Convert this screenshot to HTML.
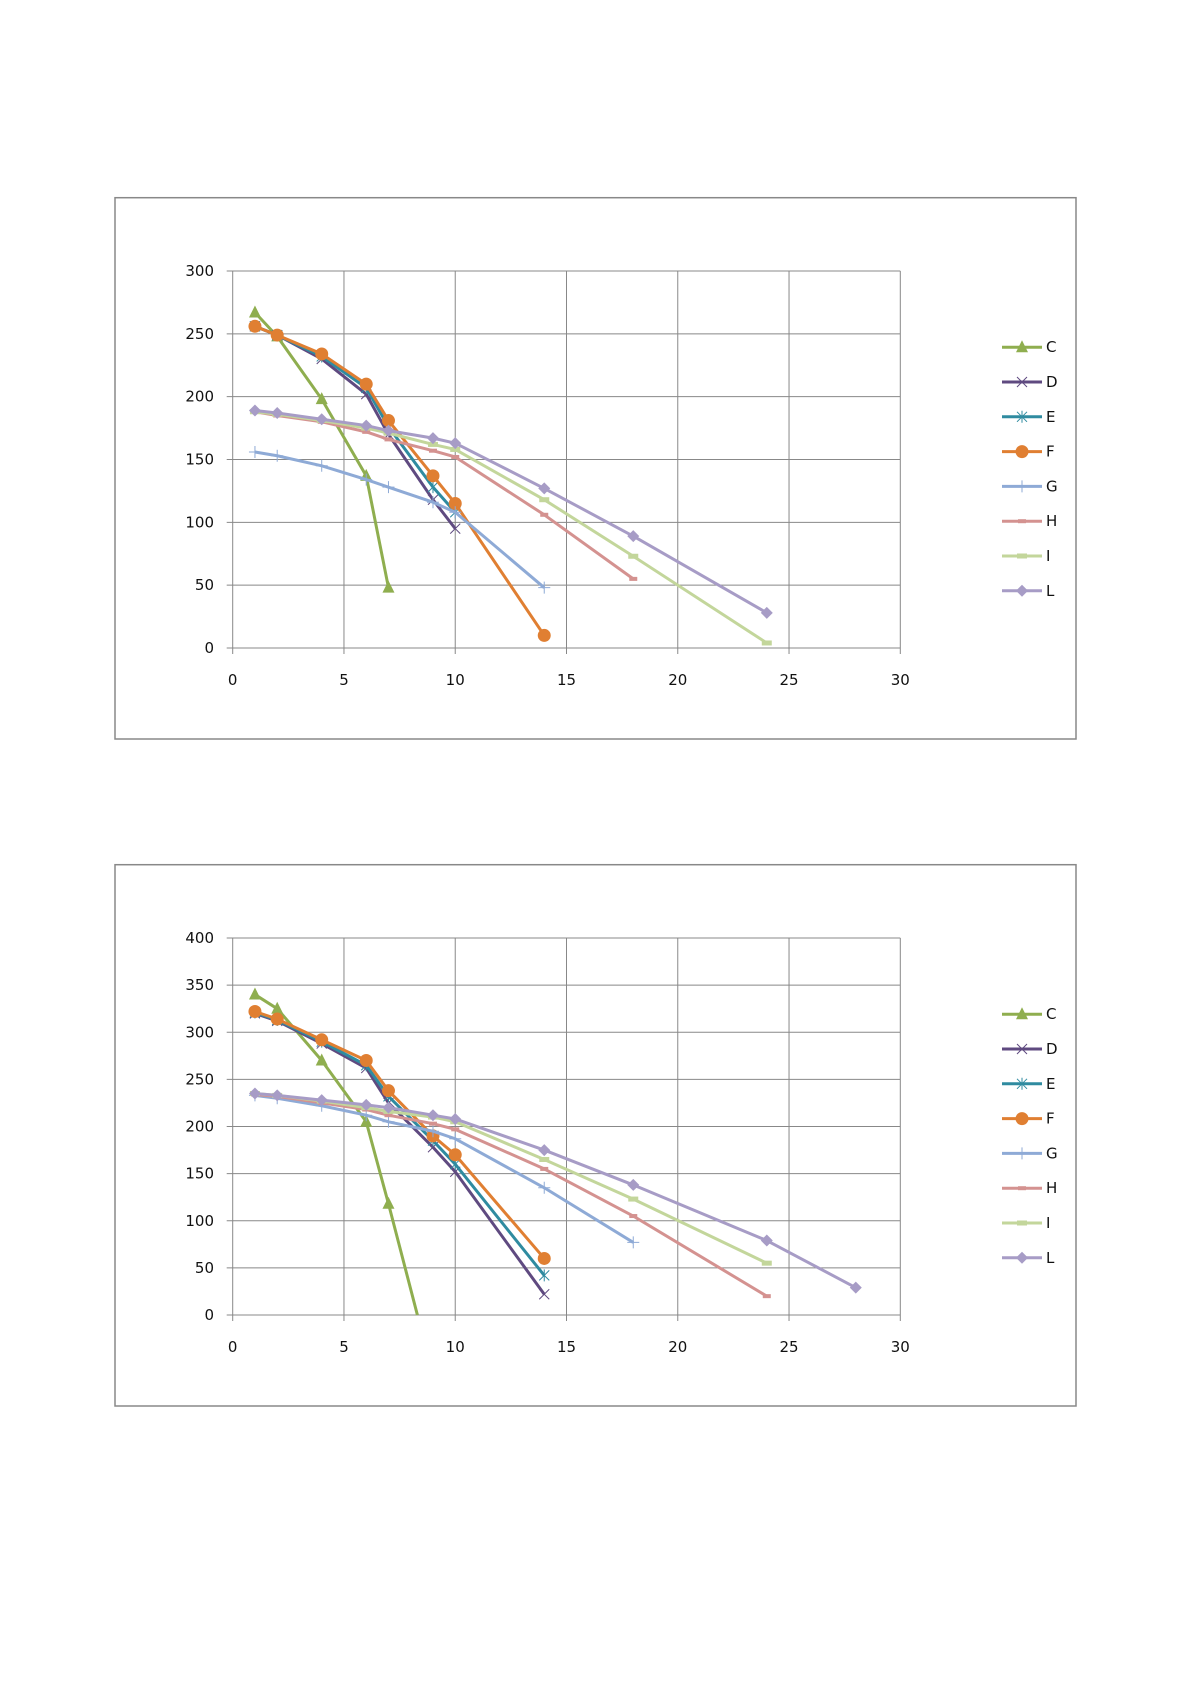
<!DOCTYPE html>
<html><head><meta charset="utf-8"><style>
html,body{margin:0;padding:0;background:#fff;width:1190px;height:1684px;overflow:hidden}
svg{position:absolute;left:0;top:0}
text{font-family:"DejaVu Sans","Liberation Sans",sans-serif;font-size:15px;fill:#111}
</style></head><body>
<svg id="s" width="1190" height="1684" xmlns="http://www.w3.org/2000/svg"></svg>
<script>
const cols={C:"#8fae4f",D:"#5f4a80",E:"#2f8ba0",F:"#e07f32",G:"#8eaad6",H:"#d49290",I:"#c3d69b",L:"#a79cc6"};
const charts=[
{top:197.7,ymax:300,ystep:50,data:{
C:[[1,267],[2,248],[4,198],[6,137],[7,48]],
D:[[1,256],[2,249],[4,230],[6,202],[7,170],[9,118],[10,95]],
E:[[1,256],[2,249],[4,232],[6,207],[7,176],[9,128],[10,108]],
F:[[1,256],[2,249],[4,234],[6,210],[7,181],[9,137],[10,115],[14,10]],
G:[[1,156],[2,153],[4,145],[6,134],[7,128],[9,116],[10,108],[14,48]],
H:[[1,188],[2,185],[4,180],[6,172],[7,166],[9,157],[10,152],[14,106],[18,55]],
I:[[1,188],[2,186],[4,181],[6,175],[7,171],[9,162],[10,158],[14,118],[18,73],[24,4]],
L:[[1,189],[2,187],[4,182],[6,177],[7,173],[9,167],[10,163],[14,127],[18,89],[24,28]]}},
{top:864.7,ymax:400,ystep:50,data:{
C:[[1,340],[2,325],[4,270],[6,205],[7,118],[8.3,0]],
D:[[1,320],[2,312],[4,288],[6,262],[7,225],[9,178],[10,152],[14,22]],
E:[[1,321],[2,313],[4,290],[6,265],[7,232],[9,185],[10,160],[14,42]],
F:[[1,322],[2,314],[4,292],[6,270],[7,238],[9,190],[10,170],[14,60]],
G:[[1,233],[2,230],[4,222],[6,212],[7,205],[9,195],[10,187],[14,135],[18,77]],
H:[[1,234],[2,232],[4,225],[6,218],[7,212],[9,203],[10,197],[14,155],[18,105],[24,20]],
I:[[1,235],[2,233],[4,227],[6,220],[7,216],[9,210],[10,205],[14,165],[18,123],[24,55]],
L:[[1,235],[2,233],[4,228],[6,223],[7,220],[9,212],[10,208],[14,175],[18,138],[24,79],[28,29]]}}];
let h="";
function marker(k,x,y){
 const c=cols[k];
 if(k=="C")return `<polygon points="${x},${y-7} ${x-6},${y+5} ${x+6},${y+5}" fill="${c}"/>`;
 if(k=="D")return `<path d="M${x-5} ${y-5}L${x+5} ${y+5}M${x-5} ${y+5}L${x+5} ${y-5}" stroke="${c}" stroke-width="1"/>`;
 if(k=="E")return `<path d="M${x-5} ${y-5}L${x+5} ${y+5}M${x-5} ${y+5}L${x+5} ${y-5}M${x} ${y-6}V${y+6}" stroke="${c}" stroke-width="1"/>`;
 if(k=="F")return `<circle cx="${x}" cy="${y}" r="6.5" fill="${c}"/>`;
 if(k=="G")return `<path d="M${x-6} ${y}H${x+6}M${x} ${y-6}V${y+6}" stroke="${c}" stroke-width="1"/>`;
 if(k=="H")return `<rect x="${x-4}" y="${y-2}" width="8" height="4" fill="${c}"/>`;
 if(k=="I")return `<rect x="${x-5}" y="${y-2.5}" width="10" height="5" fill="${c}"/>`;
 if(k=="L")return `<polygon points="${x},${y-6} ${x+6},${y} ${x},${y+6} ${x-6},${y}" fill="${c}"/>`;
}
for(const ch of charts){
 const T=ch.top, y0=T+450.3, yT=T+73.3, x0=232.7, x1=900.3;
 const X=v=>x0+(x1-x0)*v/30, Y=v=>y0-(y0-yT)*v/ch.ymax;
 h+=`<rect x="115" y="${T}" width="961" height="${541.3}" fill="#fff" stroke="#888" stroke-width="1.5"/>`;
 for(let v=0;v<=ch.ymax;v+=ch.ystep){const y=Y(v);h+=`<line x1="${x0-6}" x2="${x1}" y1="${y}" y2="${y}" stroke="#888" stroke-width="1"/><text x="214" y="${y+5}" text-anchor="end">${v}</text>`;}
 for(let v=0;v<=30;v+=5){const x=X(v);h+=`<line x1="${x}" x2="${x}" y1="${yT}" y2="${y0+6}" stroke="#888" stroke-width="1"/><text x="${x}" y="${y0+37}" text-anchor="middle">${v}</text>`;}
 const keys=Object.keys(ch.data);
 for(const k of keys){const p=ch.data[k].map(q=>X(q[0])+","+Y(q[1])).join(" ");
  h+=`<polyline points="${p}" fill="none" stroke="${cols[k]}" stroke-width="3" stroke-linejoin="round"/>`;
  for(const q of ch.data[k]) if(!(k=="C"&&q[1]==0)) h+=marker(k,X(q[0]),Y(q[1]));}
 keys.forEach((k,i)=>{const y=T+149.5+i*34.8;
  h+=`<line x1="1002" x2="1042" y1="${y}" y2="${y}" stroke="${cols[k]}" stroke-width="3"/>`+marker(k,1022,y)+`<text x="1046" y="${y+5}">${k}</text>`;});
}
document.getElementById("s").innerHTML=h;
</script>
</body></html>
